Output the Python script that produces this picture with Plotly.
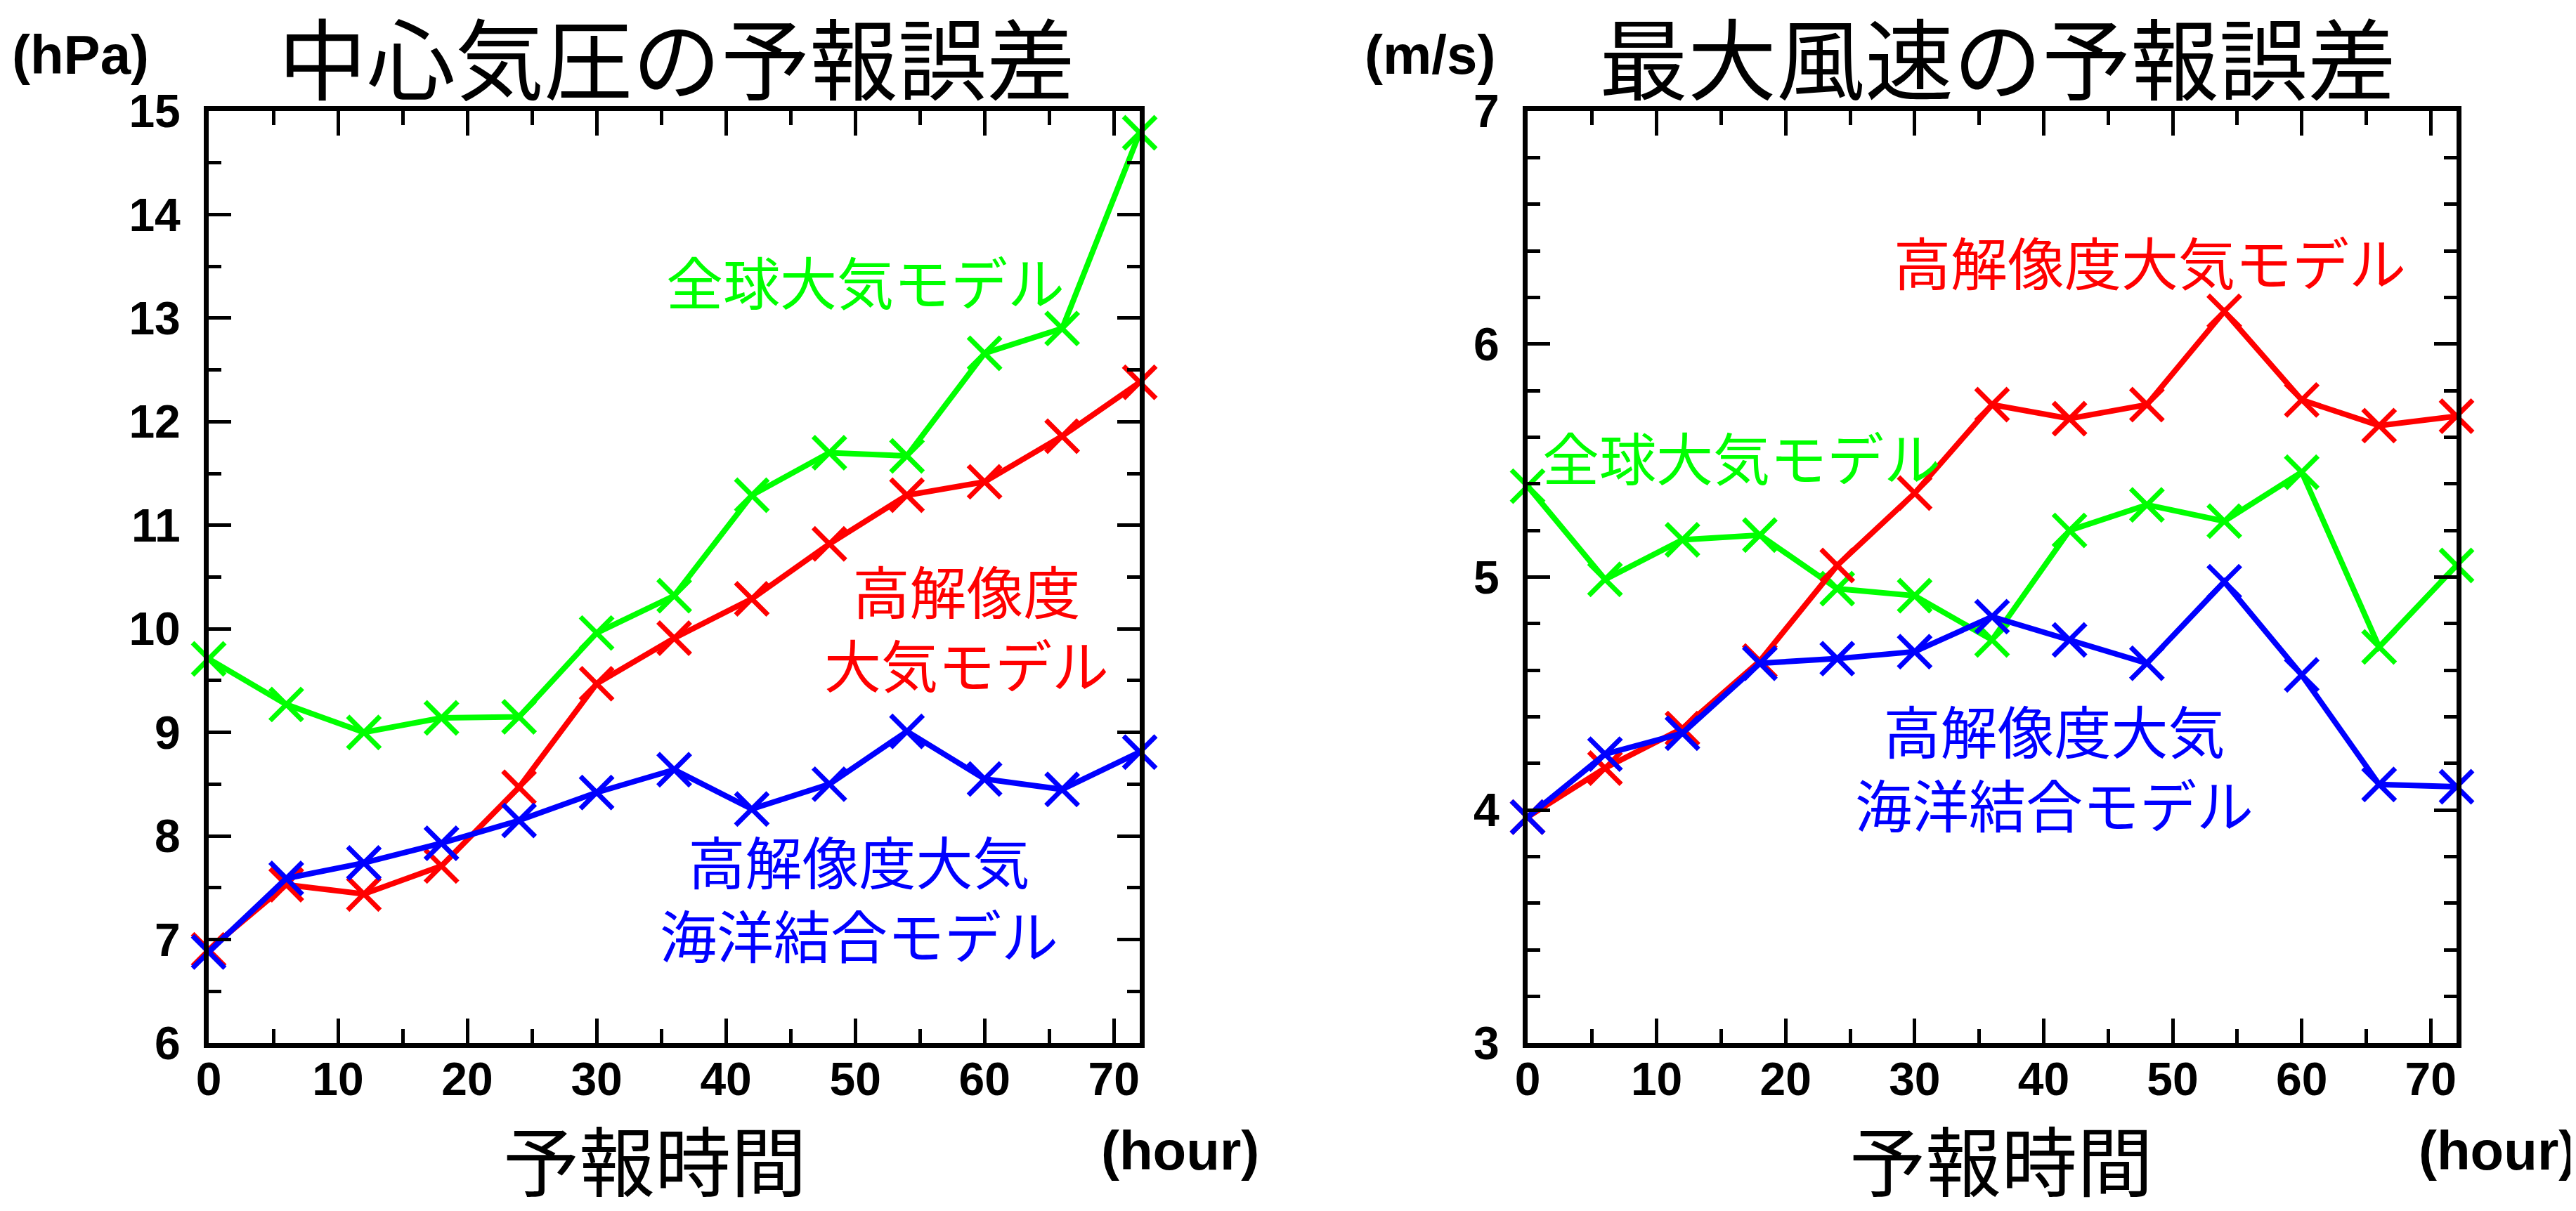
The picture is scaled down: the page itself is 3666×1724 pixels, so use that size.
import plotly.graph_objects as go

W, H = 3666, 1724

hours = [0, 6, 12, 18, 24, 30, 36, 42, 48, 54, 60, 66, 72]

# 中心気圧の予報誤差 (hPa)
p_global = [9.71, 9.27, 9.00, 9.14, 9.15, 9.96, 10.32, 11.29, 11.70, 11.67, 12.66, 12.90, 14.79]
p_hires = [6.90, 7.53, 7.44, 7.71, 8.47, 9.47, 9.91, 10.29, 10.82, 11.29, 11.42, 11.86, 12.38]
p_coupled = [6.88, 7.59, 7.74, 7.93, 8.15, 8.42, 8.64, 8.26, 8.50, 9.01, 8.55, 8.45, 8.81]

# 最大風速の予報誤差 (m/s)
w_global = [5.39, 4.99, 5.16, 5.18, 4.95, 4.92, 4.73, 5.20, 5.31, 5.24, 5.45, 4.70, 5.05]
w_hires = [3.97, 4.18, 4.35, 4.64, 5.05, 5.36, 5.74, 5.68, 5.74, 6.14, 5.76, 5.65, 5.69]
w_coupled = [3.97, 4.24, 4.33, 4.63, 4.65, 4.68, 4.83, 4.73, 4.63, 4.98, 4.58, 4.11, 4.10]

x_ticks = [0, 10, 20, 30, 40, 50, 60, 70]
p_ticks = [6, 7, 8, 9, 10, 11, 12, 13, 14, 15]
w_ticks = [3, 4, 5, 6, 7]

GREEN, RED, BLUE = "#00FF00", "#FF0000", "#0000FF"
CJK = "Noto Sans CJK JP"
LAT = "Liberation Sans, Arial, sans-serif"


def px_x(v):
    return v / W


def px_y(v):
    return 1 - v / H


fig = go.Figure()

for xa, ya, series in [
    ("x", "y", [(p_global, GREEN), (p_hires, RED), (p_coupled, BLUE)]),
    ("x2", "y2", [(w_global, GREEN), (w_hires, RED), (w_coupled, BLUE)]),
]:
    for vals, col in series:
        fig.add_trace(go.Scatter(
            x=hours, y=vals, xaxis=xa, yaxis=ya, mode="lines+markers",
            line=dict(color=col, width=8),
            marker=dict(symbol="x-thin", size=46, line=dict(color=col, width=7)),
            cliponaxis=False, showlegend=False,
        ))

tickfont = dict(family=LAT, size=66, color="black", weight="bold")


def xaxis(domain, anchor):
    return dict(
        domain=domain, anchor=anchor, range=[0, 72], tickvals=x_ticks,
        ticks="inside", ticklen=35, tickwidth=5, tickcolor="black",
        showline=True, linewidth=7, linecolor="black", mirror="ticks",
        showgrid=False, zeroline=False, tickfont=tickfont, ticklabelstandoff=-12,
        minor=dict(dtick=5, tick0=0, ticks="inside", ticklen=20, tickwidth=5,
                   tickcolor="black", showgrid=False),
    )


def yaxis(domain, anchor, rng, vals, mdt):
    return dict(
        domain=domain, anchor=anchor, range=rng, tickvals=vals,
        ticks="inside", ticklen=32, tickwidth=5, tickcolor="black",
        showline=True, linewidth=7, linecolor="black", mirror="ticks",
        showgrid=False, zeroline=False, tickfont=tickfont, ticklabelstandoff=20,
        minor=dict(dtick=mdt, tick0=rng[0], ticks="inside", ticklen=18, tickwidth=5,
                   tickcolor="black", showgrid=False),
    )


ydom = [px_y(1477), px_y(150)]
fig.update_layout(
    width=W, height=H, margin=dict(l=0, r=0, t=0, b=0, autoexpand=False),
    paper_bgcolor="white", plot_bgcolor="white",
    xaxis=xaxis([px_x(289), px_x(1614)], "y"),
    yaxis=yaxis(ydom, "x", [6, 15], p_ticks, 0.5),
    xaxis2=xaxis([px_x(2166), px_x(3488)], "y2"),
    yaxis2=yaxis(ydom, "x2", [3, 7], w_ticks, 0.2),
)

ann = []
pa = dict(xref="paper", yref="paper", xanchor="center", yanchor="middle", showarrow=False)
# titles
for txt, cx in [("中心気圧の予報誤差", 955), ("最大風速の予報誤差", 2835)]:
    ann.append(dict(pa, text=txt, x=px_x(cx), y=px_y(70),
                    font=dict(family=CJK, size=126, color="black")))
for cx in [924, 2840]:
    ann.append(dict(pa, text="予報時間", x=px_x(cx), y=px_y(1640),
                    font=dict(family=CJK, size=108, color="black")))
for txt, cx, cy in [("(hour)", 1671, 1630), ("(hour)", 3546, 1630),
                    ("(hPa)", 106, 70), ("(m/s)", 2027, 70)]:
    ann.append(dict(pa, text=txt, x=px_x(cx), y=px_y(cy),
                    font=dict(family=LAT, size=78, color="black", weight="bold")))

# series labels
lab = dict(family=CJK, size=81)
for txt, x, y, xr, yr, col in [
    ("全球大気モデル", 50.8, 13.37, "x", "y", GREEN),
    ("高解像度<br>大気モデル", 58.6, 10.03, "x", "y", RED),
    ("高解像度大気<br>海洋結合モデル", 50.3, 7.42, "x", "y", BLUE),
    ("高解像度大気モデル", 48.2, 6.36, "x2", "y2", RED),
    ("全球大気モデル", 16.6, 5.52, "x2", "y2", GREEN),
    ("高解像度大気<br>海洋結合モデル", 40.8, 4.19, "x2", "y2", BLUE),
]:
    ann.append(dict(text=txt, x=x, y=y, xref=xr, yref=yr, showarrow=False,
                    xanchor="center", yanchor="middle",
                    align="center", font=dict(lab, color=col)))

fig.update_layout(annotations=ann)
fig.write_html("out.html")
